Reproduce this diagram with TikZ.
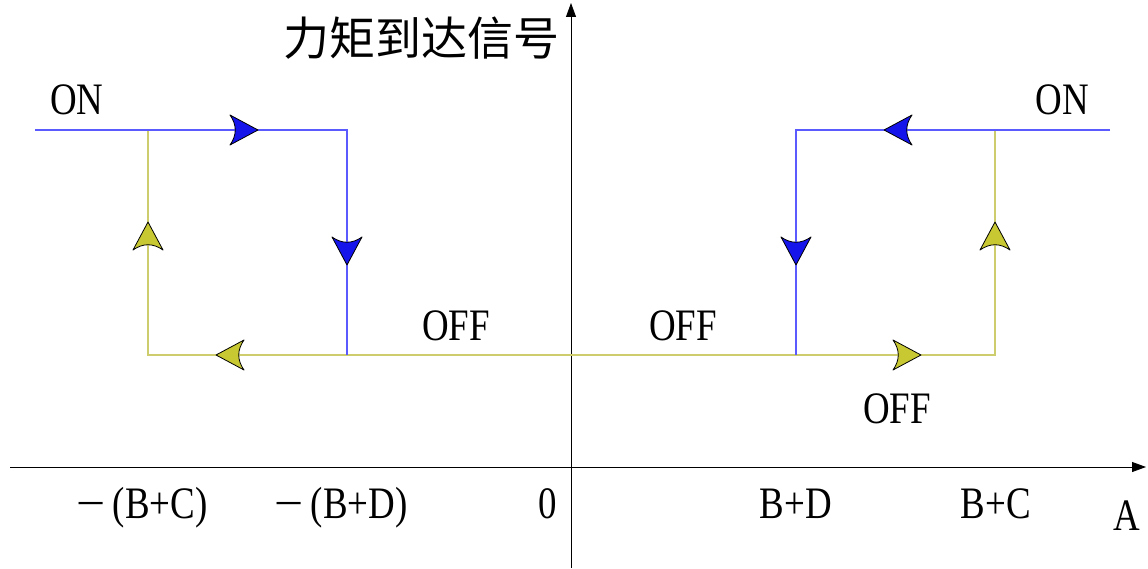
\documentclass[tikz,border=0pt]{standalone}
\usepackage{fontspec}
\usetikzlibrary{arrows.meta}
\newfontfamily\cjk{Noto Sans CJK SC}
\newfontfamily\latf[FakeStretch=0.82]{Liberation Serif}
\definecolor{bline}{RGB}{90,90,255}
\definecolor{bfill}{RGB}{20,20,235}
\definecolor{yline}{RGB}{205,205,110}
\definecolor{yfill}{RGB}{200,200,50}
\tikzset{
  hd/.pic={\path[pic actions, draw=black, line width=0.8pt, line join=round]
     (0,0) -- (-28,15) .. controls (-21,5) and (-21,-5) .. (-28,-15) -- cycle;},
  axis/.style={draw=black, line width=0.8pt, -{Triangle[length=14pt,width=10pt]}},
  bl/.style={draw=bline, line width=1.3pt},
  yl/.style={draw=yline, line width=1.3pt},
  lab/.style={font=\latf\fontsize{45}{45}\selectfont, inner sep=0pt, anchor=base},
  title/.style={font=\cjk\fontsize{46}{46}\selectfont, inner sep=0pt}
}
\begin{document}
\begin{tikzpicture}[x=1pt,y=-1pt]
\useasboundingbox (0,0) rectangle (1148,569);
% axes
\coordinate (xa0) at (10,467);
\coordinate (xa1) at (1146,467);
\coordinate (ya0) at (571,568);
\coordinate (ya1) at (571,3);
\draw[axis] (xa0) -- (xa1);
\draw[axis] (ya0) -- (ya1);
% loop corners
\coordinate (L0) at (35,130);
\coordinate (L1) at (148,130);
\coordinate (L2) at (347,130);
\coordinate (L3) at (347,355);
\coordinate (L4) at (148,355);
\coordinate (R0) at (1110,130);
\coordinate (R1) at (995,130);
\coordinate (R2) at (796,130);
\coordinate (R3) at (796,355);
\coordinate (R4) at (995,355);
\draw[yl] (L1) -- (L4) -- (R4) -- (R1);
\draw[bl] (L0) -- (L2) -- (L3);
\draw[bl] (R0) -- (R2) -- (R3);
% arrowheads
\pic[fill=bfill] at (258,130) {hd};
\pic[fill=bfill, rotate=-90] at (347,265) {hd};
\pic[fill=yfill, rotate=90] at (148,222) {hd};
\pic[fill=yfill, rotate=180] at (216,355) {hd};
\pic[fill=bfill, rotate=180] at (884,130) {hd};
\pic[fill=bfill, rotate=-90] at (796,265) {hd};
\pic[fill=yfill, rotate=90] at (995,222) {hd};
\pic[fill=yfill] at (921,355) {hd};
% labels
\node[title] (t) at (421,38) {力矩到达信号};
\node[lab] (on1) at (77,115) {ON};
\node[lab] (on2) at (1062,115) {ON};
\node[lab] (off1) at (456,340) {OFF};
\node[lab] (off2) at (683,340) {OFF};
\node[lab] (off3) at (897,423) {OFF};
\node[lab] (x1) at (142,518) {\scalebox{1.4}[1]{−}\hspace{7pt}(B+C)};
\node[lab] (x2) at (341,518) {\scalebox{1.4}[1]{−}\hspace{7pt}(B+D)};
\node[lab] (x3) at (548,518) {0};
\node[lab] (x4) at (796,518) {B+D};
\node[lab] (x5) at (996,518) {B+C};
\node[lab] (xa) at (1127,530) {A};
\end{tikzpicture}
\end{document}
